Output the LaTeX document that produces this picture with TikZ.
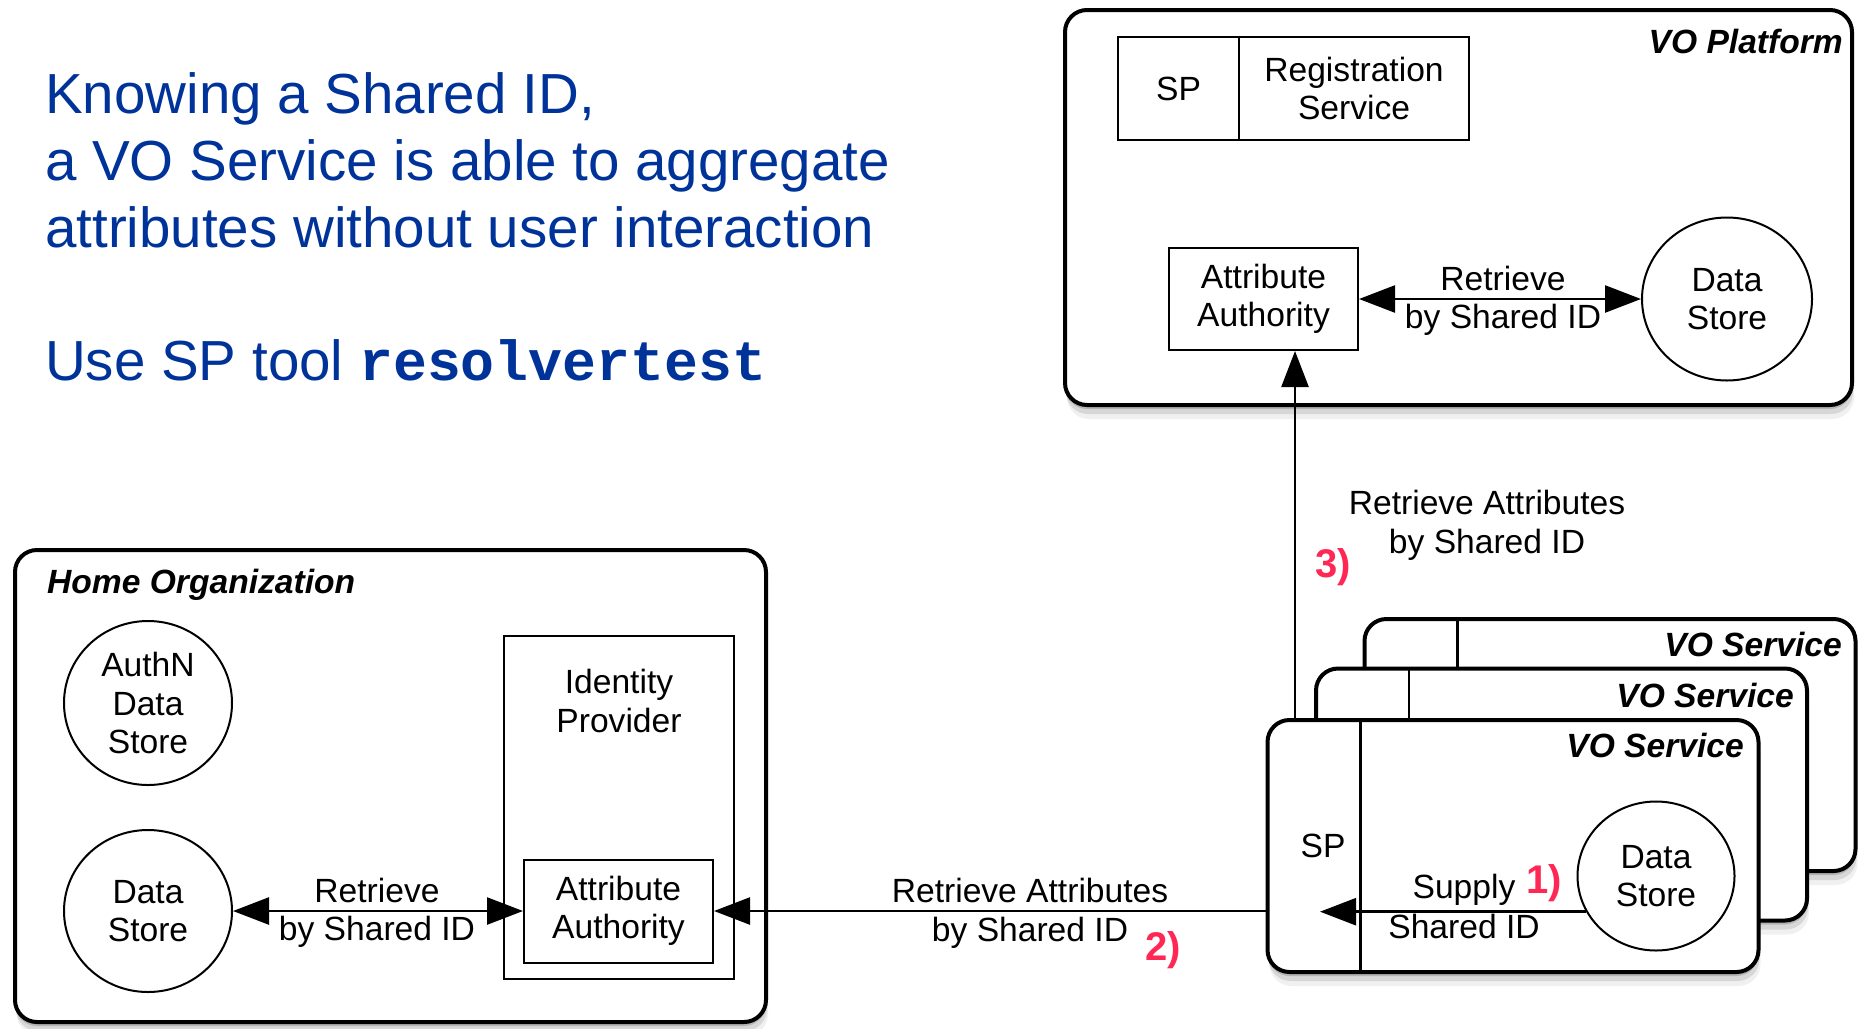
\documentclass[tikz,border=0pt]{standalone}
\usepackage{fontspec}
\setmainfont{Liberation Sans}
\setmonofont{Liberation Mono}
\usetikzlibrary{arrows.meta,shadows,shapes.geometric,calc}
\definecolor{slideblue}{RGB}{0,51,153}
\definecolor{stepred}{RGB}{255,40,85}
\begin{document}
\begin{tikzpicture}[x=1pt,y=-1pt,
  every node/.style={font=\fontsize{33.6}{38.5}\selectfont, align=center, inner sep=0pt},
  soft/.style={
    drop shadow={shadow xshift=0pt,shadow yshift=-4pt,opacity=.16,fill=black},
    drop shadow={shadow xshift=1pt,shadow yshift=-9pt,opacity=.10,fill=black},
    drop shadow={shadow xshift=2pt,shadow yshift=-14pt,opacity=.06,fill=black}},
  outerbox/.style={draw, line width=4pt, rounded corners=22pt, fill=white, soft},
  inbox/.style={draw, line width=2pt, fill=white},
  store/.style={draw, ellipse, line width=2pt, fill=white},
  boxtitle/.style={font=\fontsize{33.6}{38.5}\selectfont\bfseries\itshape},
  bluetext/.style={font=\fontsize{56.5}{66}\selectfont, text=slideblue, anchor=base west},
  steplabel/.style={font=\fontsize{40}{44}\selectfont\bfseries, text=stepred, anchor=base west},
  lbl/.style={anchor=base},
  divline/.style={line width=2.5pt},
  conn/.style={line width=2.5pt},
  arr/.style={conn, -{Triangle[length=36pt,width=27pt]}},
  dbl/.style={conn, {Triangle[length=36pt,width=27pt]}-{Triangle[length=36pt,width=27pt]}}
]
\useasboundingbox (0,0) rectangle (1859,1028);
\fill[white] (0,0) rectangle (1859,1028);

% slide text
\node[bluetext] (t1) at (45,113) {Knowing a Shared ID,};
\node[bluetext] (t2) at (45,180) {a VO Service is able to aggregate};
\node[bluetext] (t3) at (45,247) {attributes without user interaction};
\node[bluetext] (t4) at (45,380) {Use SP tool {\ttfamily\bfseries resolvertest}};

% Home Organization
\node[outerbox, minimum width=751pt, minimum height=472pt] (ho) at (390.5,786) {};
\node[boxtitle, anchor=base west] (hotitle) at (47,593) {Home Organization};
\node[store, minimum width=168pt, minimum height=164pt] (ads) at (148,703) {AuthN\\Data\\Store};
\node[store, minimum width=168pt, minimum height=162pt] (hds) at (148,911) {Data\\Store};
\node[inbox, minimum width=230pt, minimum height=343pt] (idp) at (619,807.5) {};
\node (idplabel) at (619,701) {Identity\\Provider};
\node[inbox, minimum width=189pt, minimum height=103pt] (haa) at (618.5,911) {Attribute\\Authority};
\draw[dbl] (hds.east) -- (haa.west);
\node[lbl] (hr1) at (377,902) {Retrieve};
\node[lbl] (hr2) at (377,940) {by Shared ID};

% VO Platform
\node[outerbox, minimum width=787pt, minimum height=395pt] (vop) at (1458.5,207.5) {};
\node[boxtitle, anchor=base east] (voptitle) at (1843,53) {VO Platform};
\node[inbox, minimum width=121pt, minimum height=103pt] (vsp) at (1178.5,88.5) {SP};
\node[inbox, minimum width=230pt, minimum height=103pt] (reg) at (1354,88.5) {Registration\\Service};
\node[inbox, minimum width=189pt, minimum height=102pt] (vaa) at (1263.5,299) {Attribute\\Authority};
\node[store, minimum width=170pt, minimum height=163pt] (vds) at (1727,299) {Data\\Store};
\draw[dbl] (vaa.east) -- (vds.west);
\node[lbl] (vr1) at (1503,290) {Retrieve};
\node[lbl] (vr2) at (1503,328) {by Shared ID};

% VO Services (stacked)
\node[outerbox, minimum width=491pt, minimum height=252pt] (vs3) at (1610,745) {};
\draw[divline] ($(vs3.north west)+(95,0)$) -- ($(vs3.south west)+(95,0)$);
\node[boxtitle, anchor=base east] (vs3title) at (1842,656) {VO Service};
\node[outerbox, minimum width=491pt, minimum height=252pt] (vs2) at (1561.5,794.5) {};
\draw[divline] ($(vs2.north west)+(95,0)$) -- ($(vs2.south west)+(95,0)$);
\node[boxtitle, anchor=base east] (vs2title) at (1794,707) {VO Service};
\node[outerbox, minimum width=491pt, minimum height=252pt] (vs1) at (1513,846) {};
\draw[divline] ($(vs1.north west)+(95,0)$) -- ($(vs1.south west)+(95,0)$);
\node[boxtitle, anchor=base east] (vs1title) at (1744,757) {VO Service};
\node[lbl] (sp1) at (1323,857) {SP};
\node[store, minimum width=157pt, minimum height=149pt] (fds) at (1656,876) {Data\\Store};

% 1) supply shared ID
\coordinate (supE) at (1320,911);
\draw[arr] (fds.207) -- (fds.207 -| supE);
\node[lbl] (su1) at (1464,898) {Supply};
\node[lbl] (su2) at (1464,938) {Shared ID};
\node[steplabel] (s1) at (1526,893) {1)};

% 2) retrieve attributes from home organization
\coordinate (c2) at (vs1.west |- haa);
\draw[arr] (c2) -- (haa.east);
\node[lbl] (ra1) at (1030,902) {Retrieve Attributes};
\node[lbl] (ra2) at (1030,941) {by Shared ID};
\node[steplabel] (s2) at (1145,960) {2)};

% 3) retrieve attributes from VO platform
\coordinate (c3) at (1295,720);
\draw[arr] (c3) -- (c3 |- vaa.south);
\node[lbl] (rb1) at (1487,514) {Retrieve Attributes};
\node[lbl] (rb2) at (1487,553) {by Shared ID};
\node[steplabel] (s3) at (1315,577) {3)};
\end{tikzpicture}
\end{document}
